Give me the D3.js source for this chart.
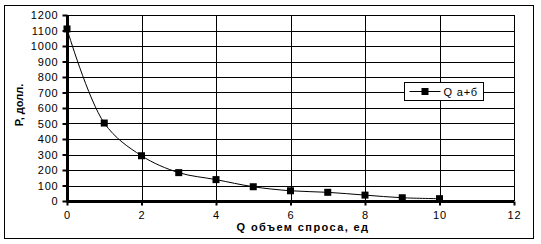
<!DOCTYPE html>
<html>
<head>
<meta charset="utf-8">
<script src="https://cdn.jsdelivr.net/npm/d3@7"></script>
<style>
  html, body { margin: 0; padding: 0; background: #fff; }
  svg { display: block; font-family: "Liberation Sans", Arial, sans-serif; }
</style>
</head>
<body>
<div id="chart"></div>
<script>
  // demand curve: Q (units) vs P (dollars)
  const quantities = [0, 1, 2, 3, 4, 5, 6, 7, 8, 9, 10];
  const prices = [1110, 503, 292, 183, 138, 92, 66, 56, 38, 21, 15];
  const xTicks = [0, 2, 4, 6, 8, 10, 12];
  const yTicks = [0, 100, 200, 300, 400, 500, 600, 700, 800, 900, 1000, 1100, 1200];
  const seriesName = "Q а+б";
  const xTitle = "Q объем спроса, ед";
  const yTitle = "Р, долл.";

  const width = 541;
  const height = 244;
  const margin = { top: 15, right: 27, bottom: 43, left: 67 };

  const svg = d3.select("#chart").append("svg")
    .attr("width", width)
    .attr("height", height);

  svg.append("rect")
    .attr("x", 4.5).attr("y", 5.5)
    .attr("width", 529).attr("height", 233)
    .attr("fill", "#fff")
    .attr("stroke", "#000")
    .attr("stroke-width", 1);

  const xScale = d3.scaleLinear().domain([0, 12]).range([margin.left, width - margin.right]);
  const yScale = d3.scaleLinear().domain([0, 1200]).range([height - margin.bottom, margin.top]);

  const crisp = (v) => Math.round(v) + 0.5;

  // grid
  const grid = svg.append("g").attr("class", "grid");
  yTicks.forEach((t) => {
    grid.append("line")
      .attr("x1", xScale(0)).attr("x2", xScale(12))
      .attr("y1", crisp(yScale(t))).attr("y2", crisp(yScale(t)))
      .attr("stroke", "#000").attr("stroke-width", 1);
  });
  xTicks.slice(1).forEach((t) => {
    grid.append("line")
      .attr("x1", crisp(xScale(t))).attr("x2", crisp(xScale(t)))
      .attr("y1", yScale(1200)).attr("y2", yScale(0))
      .attr("stroke", "#000").attr("stroke-width", 1);
  });

  // axes
  const xAxis = d3.axisBottom(xScale).tickValues(xTicks).tickSize(4).tickPadding(6).tickFormat(d3.format("d"));
  const yAxis = d3.axisLeft(yScale).tickValues(yTicks).tickSize(5).tickPadding(4).tickFormat(d3.format("d"));

  const styleText = (sel) => sel
    .attr("fill", "#000")
    .attr("font-size", "11px")
    .attr("letter-spacing", "0.8px")
    .attr("font-family", "Liberation Sans, Arial, sans-serif");

  svg.append("g")
    .attr("transform", `translate(0, ${crisp(yScale(0))})`)
    .call(xAxis)
    .call((g) => g.select(".domain").remove())
    .call((g) => g.selectAll("line").attr("stroke", "#000").attr("stroke-width", 2))
    .call((g) => styleText(g.selectAll("text")));

  svg.append("g")
    .attr("transform", `translate(${crisp(xScale(0))}, 0)`)
    .call(yAxis)
    .call((g) => g.select(".domain").remove())
    .call((g) => g.selectAll("line").attr("stroke", "#000").attr("stroke-width", 2))
    .call((g) => styleText(g.selectAll("text")));

  svg.append("line")
    .attr("x1", xScale(0)).attr("x2", xScale(12))
    .attr("y1", crisp(yScale(0))).attr("y2", crisp(yScale(0)))
    .attr("stroke", "#000").attr("stroke-width", 3);
  svg.append("line")
    .attr("x1", crisp(xScale(0))).attr("x2", crisp(xScale(0)))
    .attr("y1", yScale(1200)).attr("y2", yScale(0) + 1.5)
    .attr("stroke", "#000").attr("stroke-width", 3);

  // series
  const points = quantities.map((q, i) => ({ q, p: prices[i] }));
  const line = d3.line()
    .x((d) => xScale(d.q))
    .y((d) => yScale(d.p))
    .curve(d3.curveCatmullRom.alpha(0.5));

  svg.append("path")
    .datum(points)
    .attr("fill", "none")
    .attr("stroke", "#000")
    .attr("stroke-width", 1)
    .attr("d", line);

  const markerSize = 7;
  svg.append("g").selectAll("rect")
    .data(points)
    .join("rect")
    .attr("x", (d) => xScale(d.q) - markerSize / 2)
    .attr("y", (d) => yScale(d.p) - markerSize / 2)
    .attr("width", markerSize)
    .attr("height", markerSize)
    .attr("fill", "#000");

  // titles
  svg.append("text")
    .attr("x", 303)
    .attr("y", 231)
    .attr("text-anchor", "middle")
    .attr("font-size", "11px")
    .attr("font-weight", "bold")
    .attr("letter-spacing", "1.4px")
    .text(xTitle);

  svg.append("text")
    .attr("transform", `translate(23, 105) rotate(-90)`)
    .attr("text-anchor", "middle")
    .attr("font-size", "11px")
    .attr("font-weight", "bold")
    .text(yTitle);

  // legend
  const legend = svg.append("g").attr("transform", "translate(404.5, 82.5)");
  legend.append("rect")
    .attr("width", 79).attr("height", 18)
    .attr("fill", "#fff").attr("stroke", "#000").attr("stroke-width", 1);
  legend.append("line")
    .attr("x1", 5).attr("x2", 36).attr("y1", 9).attr("y2", 9)
    .attr("stroke", "#000").attr("stroke-width", 1);
  legend.append("rect")
    .attr("x", 20.5 - markerSize / 2).attr("y", 9 - markerSize / 2)
    .attr("width", markerSize).attr("height", markerSize)
    .attr("fill", "#000");
  legend.append("text")
    .attr("x", 39).attr("y", 13)
    .attr("font-size", "11px")
    .attr("letter-spacing", "0.8px")
    .text(seriesName);
</script>
</body>
</html>
